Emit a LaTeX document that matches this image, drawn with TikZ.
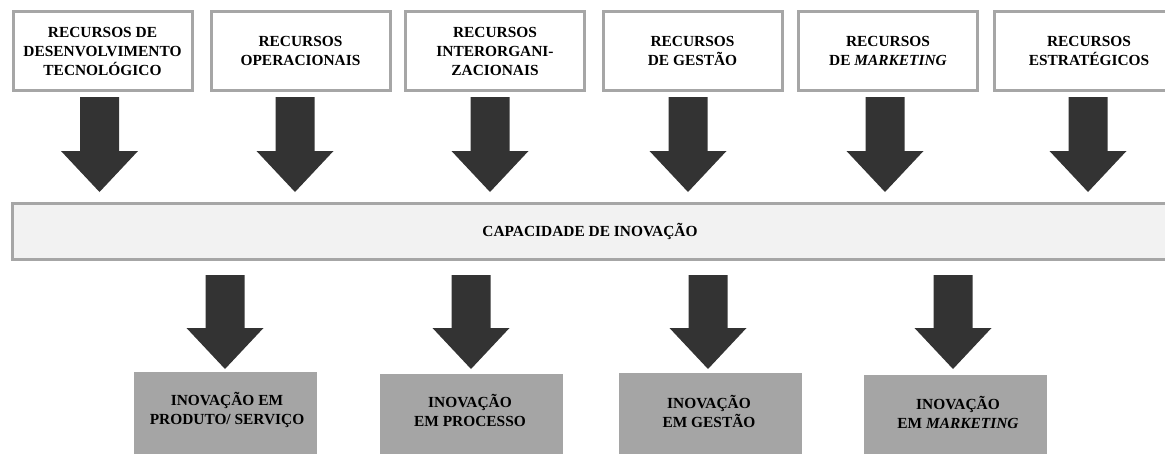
\documentclass[tikz,border=0pt]{standalone}
\usepackage{fontspec}
\setmainfont{Liberation Serif}
\usetikzlibrary{calc}
\definecolor{boxgray}{HTML}{A6A6A6}
\definecolor{arrowfill}{HTML}{333333}
\definecolor{barfill}{HTML}{F2F2F2}
\definecolor{outfill}{HTML}{A5A5A5}
\newcommand\blockarrow[3]{%
  \fill[arrowfill] let \p1=(#1), \p2=(#2) in
   (\x1-19.5pt,\y1) -- (\x1+19.5pt,\y1) -- (\x1+19.5pt,\y2+#3) -- (\x1+38.5pt,\y2+#3)
   -- (\x2,\y2) -- (\x1-38.5pt,\y2+#3) -- (\x1-19.5pt,\y2+#3) -- cycle;}
\begin{document}
\begin{tikzpicture}[x=1pt,y=-1pt,
  lbl/.style={align=center, font=\bfseries\fontsize{15.4}{19}\selectfont, inner sep=0pt},
  topbox/.style={lbl, draw=boxgray, line width=3pt, fill=white, minimum width=179pt, minimum height=79pt},
  barbox/.style={lbl, draw=boxgray, line width=3pt, fill=barfill, minimum width=1155pt, minimum height=56pt},
  outbox/.style={fill=outfill, inner sep=0pt, minimum width=183pt, minimum height=90pt, anchor=north}]
\useasboundingbox (0,0) rectangle (1165,453);
% resource boxes
\node[topbox] (r1) at (102.5,51) {RECURSOS DE\\DESENVOLVIMENTO\\TECNOLÓGICO};
\node[topbox] (r2) at (300.5,51) {RECURSOS\\OPERACIONAIS};
\node[topbox] (r3) at (495,51) {RECURSOS\\INTERORGANI-\\ZACIONAIS};
\node[topbox] (r4) at (692.5,51) {RECURSOS\\DE GESTÃO};
\node[topbox] (r5) at (888,51) {RECURSOS\\DE \textit{MARKETING}};
\node[topbox, minimum width=189pt] (r6) at (1089,51) {RECURSOS\\ESTRATÉGICOS};
% capability bar
\node[barbox] (cap) at (590,231.5) {CAPACIDADE DE INOVAÇÃO};
% outcome boxes
\node[outbox] (o1) at (225.5,372) {};
\node[outbox] (o2) at (471,374) {};
\node[outbox] (o3) at (710,373) {};
\node[outbox] (o4) at (955,375) {};
\node[lbl] (t1) at (227,410) {INOVAÇÃO EM\\PRODUTO/ SERVIÇO};
\node[lbl] (t2) at (470,410) {INOVAÇÃO\\EM PROCESSO};
\node[lbl] (t3) at (709,411) {INOVAÇÃO\\EM GESTÃO};
\node[lbl] (t4) at (958,412) {INOVAÇÃO\\EM \textit{MARKETING}};
% arrow end points
\foreach \i/\x in {1/99.5,2/295,3/490,4/688,5/885,6/1088}{
  \coordinate (ta\i) at (\x,97);
  \coordinate (tb\i) at (\x,192);
}
\foreach \i/\x in {1/225,2/471,3/708,4/953}{
  \coordinate (ba\i) at (\x,275);
  \coordinate (bb\i) at (\x,369);
}
\foreach \i in {1,...,6}{\blockarrow{ta\i}{tb\i}{41pt}}
\foreach \i in {1,...,4}{\blockarrow{ba\i}{bb\i}{41pt}}
\end{tikzpicture}
\end{document}
